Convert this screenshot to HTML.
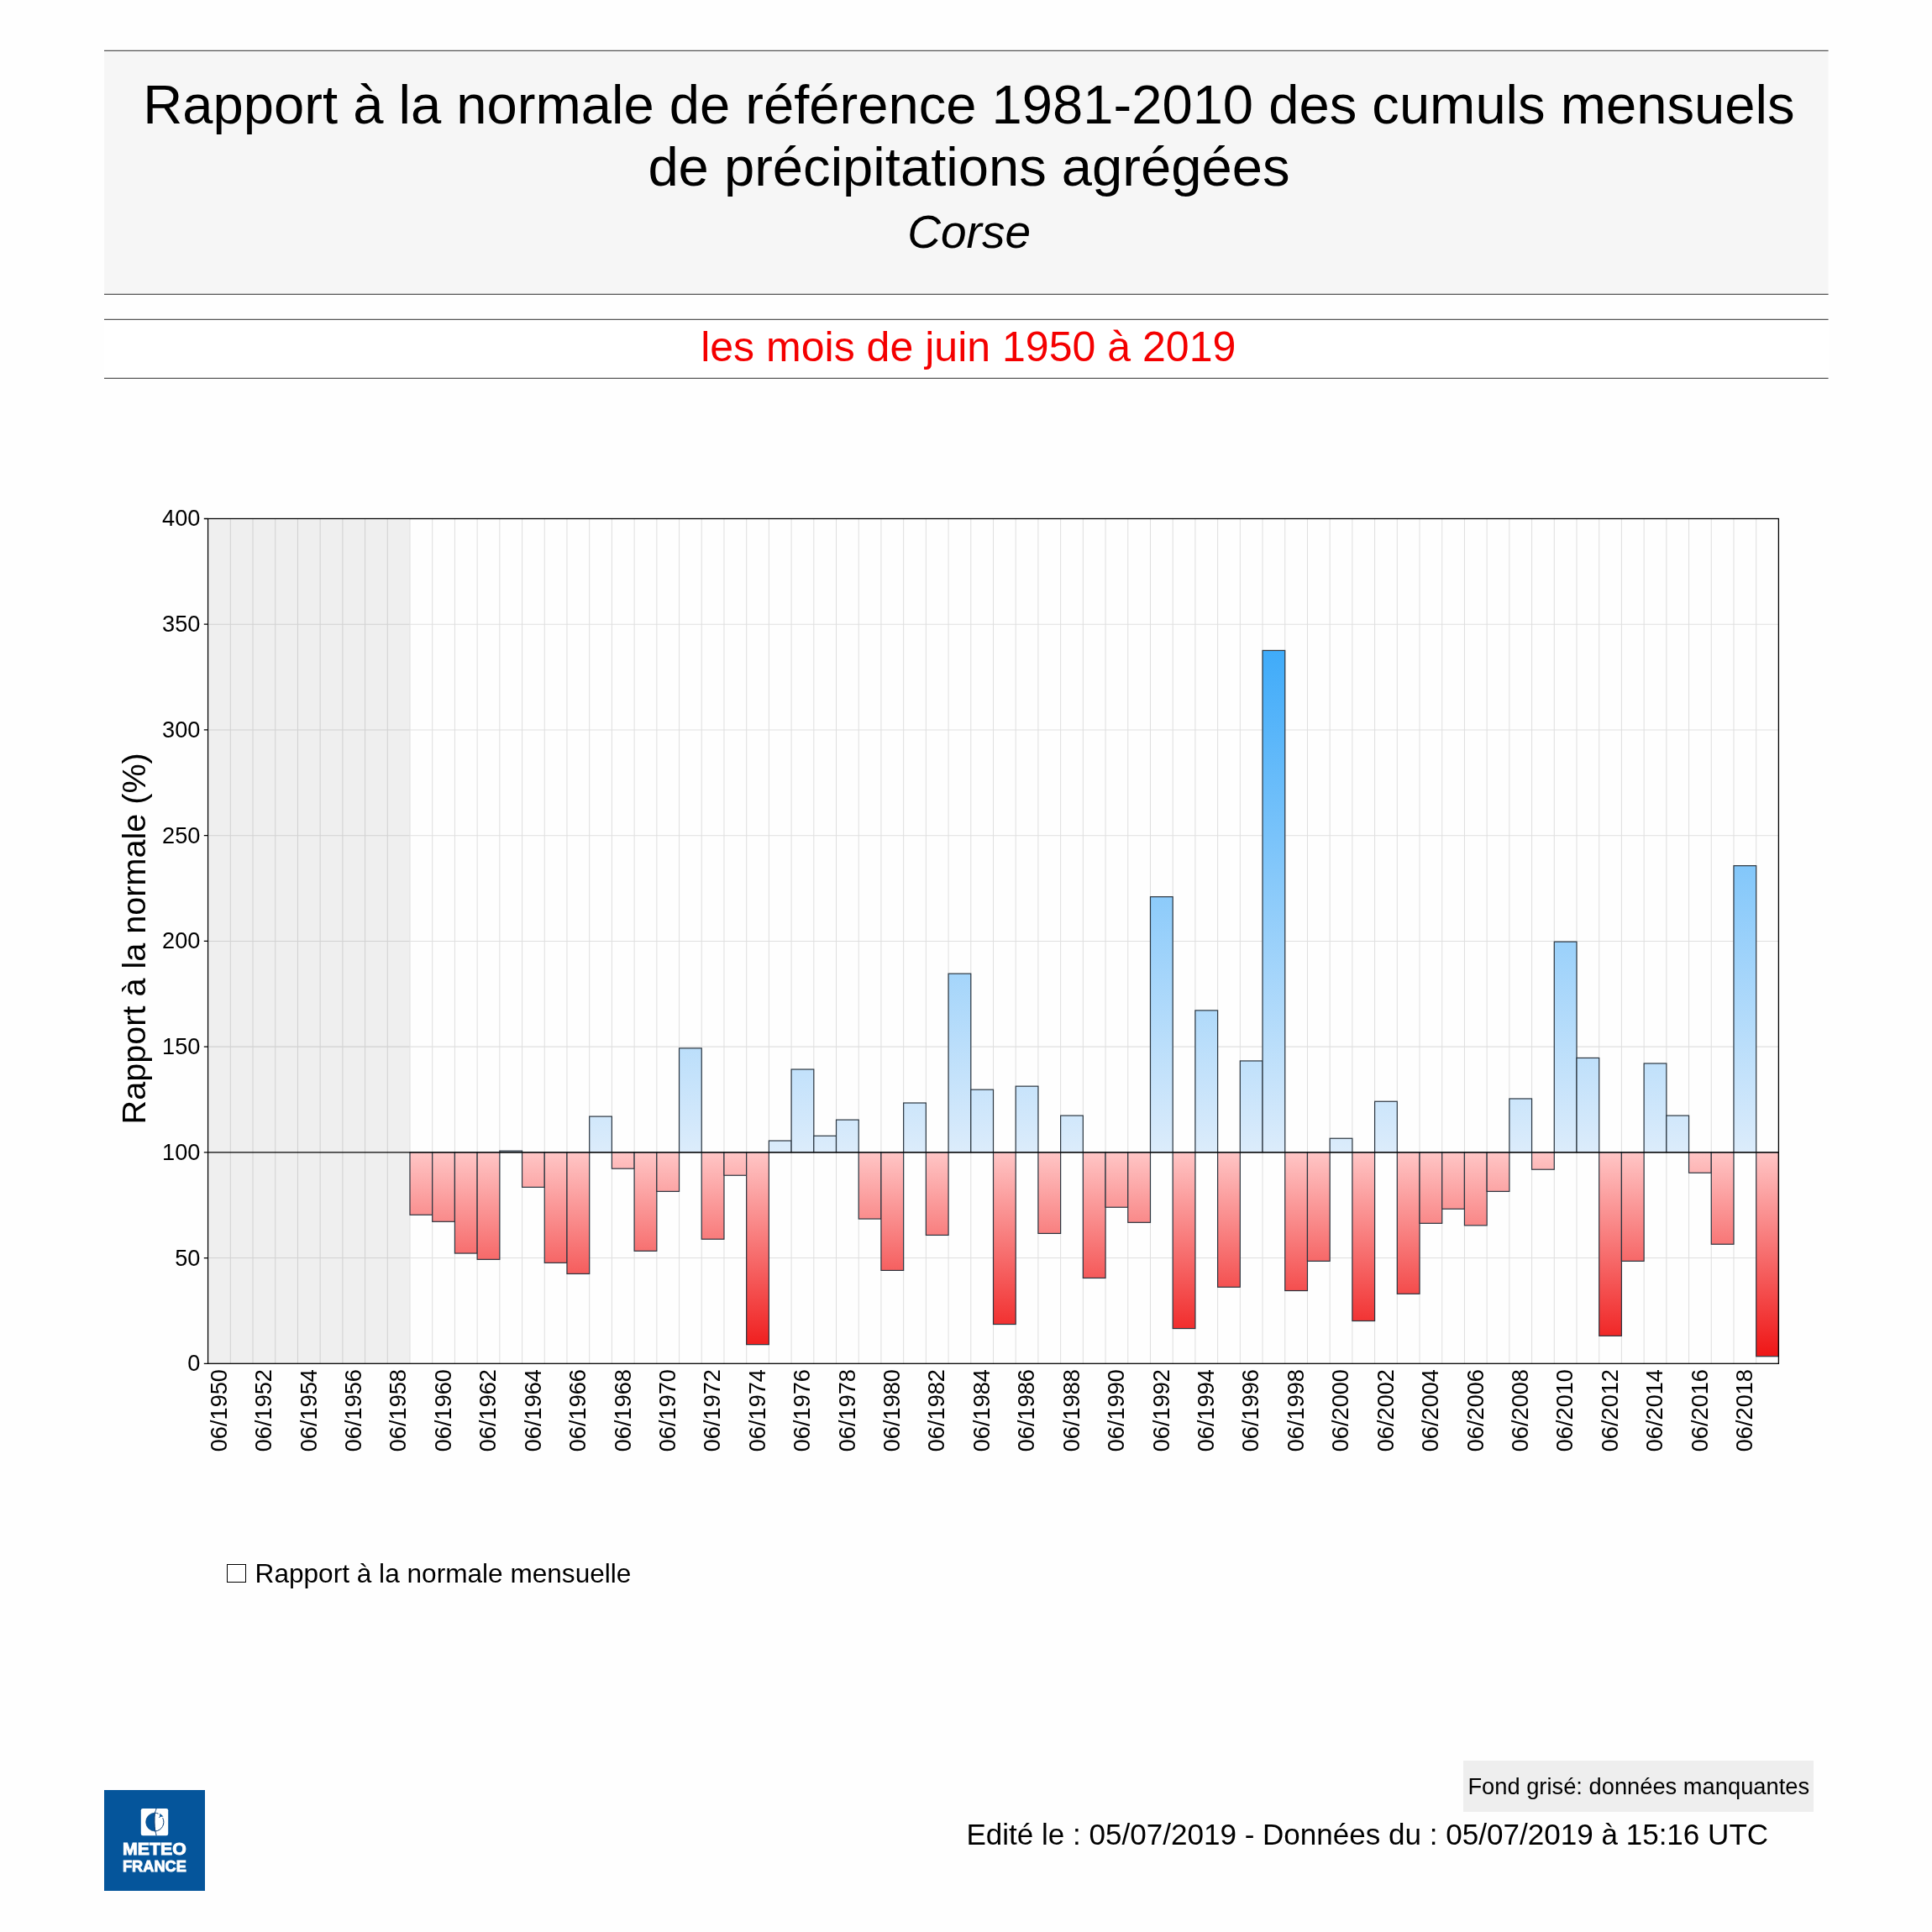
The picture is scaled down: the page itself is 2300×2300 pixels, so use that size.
<!DOCTYPE html>
<html><head><meta charset="utf-8"><title>Rapport à la normale</title>
<style>
html,body{margin:0;padding:0;}
body{width:2300px;height:2300px;background:#fefefe;position:relative;overflow:hidden;font-family:"Liberation Sans",sans-serif;color:#000;}
.abs{position:absolute;}
.hdr{left:124px;top:60.4px;width:2052.5px;height:290px;background:#f6f6f6;}
.ln{left:124px;width:2052.5px;height:1.3px;background:#555;}
.t1{left:127.2px;width:2052.5px;text-align:center;font-size:65.15px;line-height:73.6px;white-space:nowrap;}
.t3{left:127.4px;width:2052.5px;text-align:center;font-size:55px;font-style:italic;white-space:nowrap;}
.sub{left:124px;top:380.4px;width:2052.5px;height:70px;background:#ffffff;}
.st{left:126.5px;width:2052.5px;text-align:center;font-size:50.05px;color:#f40000;white-space:nowrap;}
.leg{left:269.9px;top:1862.2px;width:20.9px;height:20.1px;border:1.2px solid #000;background:#fff;}
.legt{left:303.6px;font-size:31.6px;white-space:nowrap;}
.note{left:1742.2px;top:2096px;width:416.7px;height:60.5px;background:#eeeeee;}
.notet{left:1747.4px;font-size:27.3px;white-space:nowrap;}
.foot{font-size:35.05px;white-space:nowrap;}
.logo{left:124px;top:2131px;width:120px;height:120px;background:#05559b;}
</style></head><body>
<div id="pg" style="position:absolute;left:0;top:0;width:2300px;height:2300px;will-change:transform;">
<svg width="2300" height="2300" viewBox="0 0 2300 2300" style="position:absolute;left:0;top:0">
<rect x="124" y="60.4" width="2052.6" height="290" fill="#f6f6f6"/>
<rect x="124" y="380.4" width="2052.6" height="70" fill="#ffffff"/>
<path d="M124 60.4H2176.6M124 350.4H2176.6M124 380.4H2176.6M124 450.4H2176.6" stroke="#555" stroke-width="1.35" fill="none"/>
</svg>
<div class="abs t1" style="top:88px">Rapport à la normale de référence 1981-2010 des cumuls mensuels<br>de précipitations agrégées</div>
<div class="abs t3" style="top:245px;line-height:62px">Corse</div>
<div class="abs st" style="top:382.1px;line-height:62px">les mois de juin 1950 à 2019</div>
<svg width="2300" height="2300" viewBox="0 0 2300 2300" style="position:absolute;left:0;top:0" font-family="Liberation Sans, sans-serif">
<defs><linearGradient id="gb" gradientUnits="userSpaceOnUse" x1="0" y1="1371.85" x2="0" y2="617.50"><stop offset="0" stop-color="#dcecfb"/><stop offset="1" stop-color="#169af9"/></linearGradient><linearGradient id="gr" gradientUnits="userSpaceOnUse" x1="0" y1="1371.85" x2="0" y2="1623.30"><stop offset="0" stop-color="#ffc6c6"/><stop offset="1" stop-color="#ee0f0f"/></linearGradient></defs>
<rect x="247.60" y="617.50" width="1869.80" height="1005.80" fill="#fefefe"/>
<rect x="249.10" y="619.10" width="238.40" height="1004.20" fill="#efefef"/>
<path d="M274.31 617.50V1623.30M301.02 617.50V1623.30M327.73 617.50V1623.30M354.45 617.50V1623.30M381.16 617.50V1623.30M407.87 617.50V1623.30M434.58 617.50V1623.30M461.29 617.50V1623.30M488.00 617.50V1623.30M514.71 617.50V1623.30M541.43 617.50V1623.30M568.14 617.50V1623.30M594.85 617.50V1623.30M621.56 617.50V1623.30M648.27 617.50V1623.30M674.98 617.50V1623.30M701.69 617.50V1623.30M728.41 617.50V1623.30M755.12 617.50V1623.30M781.83 617.50V1623.30M808.54 617.50V1623.30M835.25 617.50V1623.30M861.96 617.50V1623.30M888.67 617.50V1623.30M915.39 617.50V1623.30M942.10 617.50V1623.30M968.81 617.50V1623.30M995.52 617.50V1623.30M1022.23 617.50V1623.30M1048.94 617.50V1623.30M1075.65 617.50V1623.30M1102.37 617.50V1623.30M1129.08 617.50V1623.30M1155.79 617.50V1623.30M1182.50 617.50V1623.30M1209.21 617.50V1623.30M1235.92 617.50V1623.30M1262.63 617.50V1623.30M1289.35 617.50V1623.30M1316.06 617.50V1623.30M1342.77 617.50V1623.30M1369.48 617.50V1623.30M1396.19 617.50V1623.30M1422.90 617.50V1623.30M1449.61 617.50V1623.30M1476.33 617.50V1623.30M1503.04 617.50V1623.30M1529.75 617.50V1623.30M1556.46 617.50V1623.30M1583.17 617.50V1623.30M1609.88 617.50V1623.30M1636.59 617.50V1623.30M1663.31 617.50V1623.30M1690.02 617.50V1623.30M1716.73 617.50V1623.30M1743.44 617.50V1623.30M1770.15 617.50V1623.30M1796.86 617.50V1623.30M1823.57 617.50V1623.30M1850.29 617.50V1623.30M1877.00 617.50V1623.30M1903.71 617.50V1623.30M1930.42 617.50V1623.30M1957.13 617.50V1623.30M1983.84 617.50V1623.30M2010.55 617.50V1623.30M2037.27 617.50V1623.30M2063.98 617.50V1623.30M2090.69 617.50V1623.30M247.60 1497.58H2117.40M247.60 1246.12H2117.40M247.60 1120.40H2117.40M247.60 994.67H2117.40M247.60 868.95H2117.40M247.60 743.22H2117.40" stroke="#000" stroke-opacity="0.12" stroke-width="1.05" fill="none"/>
<rect x="488.00" y="1371.85" width="26.71" height="74.43" fill="url(#gr)" stroke="#2b3640" stroke-width="1.2"/>
<rect x="514.71" y="1371.85" width="26.71" height="82.48" fill="url(#gr)" stroke="#2b3640" stroke-width="1.2"/>
<rect x="541.43" y="1371.85" width="26.71" height="120.19" fill="url(#gr)" stroke="#2b3640" stroke-width="1.2"/>
<rect x="568.14" y="1371.85" width="26.71" height="127.49" fill="url(#gr)" stroke="#2b3640" stroke-width="1.2"/>
<rect x="594.85" y="1370.09" width="26.71" height="1.76" fill="url(#gb)" stroke="#2b3640" stroke-width="1.2"/>
<rect x="621.56" y="1371.85" width="26.71" height="41.49" fill="url(#gr)" stroke="#2b3640" stroke-width="1.2"/>
<rect x="648.27" y="1371.85" width="26.71" height="131.51" fill="url(#gr)" stroke="#2b3640" stroke-width="1.2"/>
<rect x="674.98" y="1371.85" width="26.71" height="144.58" fill="url(#gr)" stroke="#2b3640" stroke-width="1.2"/>
<rect x="701.69" y="1329.10" width="26.71" height="42.75" fill="url(#gb)" stroke="#2b3640" stroke-width="1.2"/>
<rect x="728.41" y="1371.85" width="26.71" height="19.36" fill="url(#gr)" stroke="#2b3640" stroke-width="1.2"/>
<rect x="755.12" y="1371.85" width="26.71" height="117.43" fill="url(#gr)" stroke="#2b3640" stroke-width="1.2"/>
<rect x="781.83" y="1371.85" width="26.71" height="46.52" fill="url(#gr)" stroke="#2b3640" stroke-width="1.2"/>
<rect x="808.54" y="1247.89" width="26.71" height="123.96" fill="url(#gb)" stroke="#2b3640" stroke-width="1.2"/>
<rect x="835.25" y="1371.85" width="26.71" height="103.35" fill="url(#gr)" stroke="#2b3640" stroke-width="1.2"/>
<rect x="861.96" y="1371.85" width="26.71" height="27.41" fill="url(#gr)" stroke="#2b3640" stroke-width="1.2"/>
<rect x="888.67" y="1371.85" width="26.71" height="228.82" fill="url(#gr)" stroke="#2b3640" stroke-width="1.2"/>
<rect x="915.39" y="1358.02" width="26.71" height="13.83" fill="url(#gb)" stroke="#2b3640" stroke-width="1.2"/>
<rect x="942.10" y="1273.03" width="26.71" height="98.82" fill="url(#gb)" stroke="#2b3640" stroke-width="1.2"/>
<rect x="968.81" y="1352.24" width="26.71" height="19.61" fill="url(#gb)" stroke="#2b3640" stroke-width="1.2"/>
<rect x="995.52" y="1333.13" width="26.71" height="38.72" fill="url(#gb)" stroke="#2b3640" stroke-width="1.2"/>
<rect x="1022.23" y="1371.85" width="26.71" height="79.21" fill="url(#gr)" stroke="#2b3640" stroke-width="1.2"/>
<rect x="1048.94" y="1371.85" width="26.71" height="140.56" fill="url(#gr)" stroke="#2b3640" stroke-width="1.2"/>
<rect x="1075.65" y="1313.01" width="26.71" height="58.84" fill="url(#gb)" stroke="#2b3640" stroke-width="1.2"/>
<rect x="1102.37" y="1371.85" width="26.71" height="98.57" fill="url(#gr)" stroke="#2b3640" stroke-width="1.2"/>
<rect x="1129.08" y="1159.12" width="26.71" height="212.73" fill="url(#gb)" stroke="#2b3640" stroke-width="1.2"/>
<rect x="1155.79" y="1297.17" width="26.71" height="74.68" fill="url(#gb)" stroke="#2b3640" stroke-width="1.2"/>
<rect x="1182.50" y="1371.85" width="26.71" height="204.68" fill="url(#gr)" stroke="#2b3640" stroke-width="1.2"/>
<rect x="1209.21" y="1293.15" width="26.71" height="78.70" fill="url(#gb)" stroke="#2b3640" stroke-width="1.2"/>
<rect x="1235.92" y="1371.85" width="26.71" height="96.56" fill="url(#gr)" stroke="#2b3640" stroke-width="1.2"/>
<rect x="1262.63" y="1328.10" width="26.71" height="43.75" fill="url(#gb)" stroke="#2b3640" stroke-width="1.2"/>
<rect x="1289.35" y="1371.85" width="26.71" height="149.61" fill="url(#gr)" stroke="#2b3640" stroke-width="1.2"/>
<rect x="1316.06" y="1371.85" width="26.71" height="65.38" fill="url(#gr)" stroke="#2b3640" stroke-width="1.2"/>
<rect x="1342.77" y="1371.85" width="26.71" height="83.48" fill="url(#gr)" stroke="#2b3640" stroke-width="1.2"/>
<rect x="1369.48" y="1067.60" width="26.71" height="304.25" fill="url(#gb)" stroke="#2b3640" stroke-width="1.2"/>
<rect x="1396.19" y="1371.85" width="26.71" height="209.71" fill="url(#gr)" stroke="#2b3640" stroke-width="1.2"/>
<rect x="1422.90" y="1202.88" width="26.71" height="168.97" fill="url(#gb)" stroke="#2b3640" stroke-width="1.2"/>
<rect x="1449.61" y="1371.85" width="26.71" height="160.43" fill="url(#gr)" stroke="#2b3640" stroke-width="1.2"/>
<rect x="1476.33" y="1262.97" width="26.71" height="108.88" fill="url(#gb)" stroke="#2b3640" stroke-width="1.2"/>
<rect x="1503.04" y="774.40" width="26.71" height="597.45" fill="url(#gb)" stroke="#2b3640" stroke-width="1.2"/>
<rect x="1529.75" y="1371.85" width="26.71" height="164.70" fill="url(#gr)" stroke="#2b3640" stroke-width="1.2"/>
<rect x="1556.46" y="1371.85" width="26.71" height="129.50" fill="url(#gr)" stroke="#2b3640" stroke-width="1.2"/>
<rect x="1583.17" y="1355.25" width="26.71" height="16.60" fill="url(#gb)" stroke="#2b3640" stroke-width="1.2"/>
<rect x="1609.88" y="1371.85" width="26.71" height="200.66" fill="url(#gr)" stroke="#2b3640" stroke-width="1.2"/>
<rect x="1636.59" y="1311.25" width="26.71" height="60.60" fill="url(#gb)" stroke="#2b3640" stroke-width="1.2"/>
<rect x="1663.31" y="1371.85" width="26.71" height="168.47" fill="url(#gr)" stroke="#2b3640" stroke-width="1.2"/>
<rect x="1690.02" y="1371.85" width="26.71" height="84.49" fill="url(#gr)" stroke="#2b3640" stroke-width="1.2"/>
<rect x="1716.73" y="1371.85" width="26.71" height="67.39" fill="url(#gr)" stroke="#2b3640" stroke-width="1.2"/>
<rect x="1743.44" y="1371.85" width="26.71" height="87.00" fill="url(#gr)" stroke="#2b3640" stroke-width="1.2"/>
<rect x="1770.15" y="1371.85" width="26.71" height="46.52" fill="url(#gr)" stroke="#2b3640" stroke-width="1.2"/>
<rect x="1796.86" y="1307.98" width="26.71" height="63.87" fill="url(#gb)" stroke="#2b3640" stroke-width="1.2"/>
<rect x="1823.57" y="1371.85" width="26.71" height="20.37" fill="url(#gr)" stroke="#2b3640" stroke-width="1.2"/>
<rect x="1850.29" y="1121.15" width="26.71" height="250.70" fill="url(#gb)" stroke="#2b3640" stroke-width="1.2"/>
<rect x="1877.00" y="1259.45" width="26.71" height="112.40" fill="url(#gb)" stroke="#2b3640" stroke-width="1.2"/>
<rect x="1903.71" y="1371.85" width="26.71" height="218.51" fill="url(#gr)" stroke="#2b3640" stroke-width="1.2"/>
<rect x="1930.42" y="1371.85" width="26.71" height="129.50" fill="url(#gr)" stroke="#2b3640" stroke-width="1.2"/>
<rect x="1957.13" y="1265.99" width="26.71" height="105.86" fill="url(#gb)" stroke="#2b3640" stroke-width="1.2"/>
<rect x="1983.84" y="1328.10" width="26.71" height="43.75" fill="url(#gb)" stroke="#2b3640" stroke-width="1.2"/>
<rect x="2010.55" y="1371.85" width="26.71" height="24.39" fill="url(#gr)" stroke="#2b3640" stroke-width="1.2"/>
<rect x="2037.27" y="1371.85" width="26.71" height="109.38" fill="url(#gr)" stroke="#2b3640" stroke-width="1.2"/>
<rect x="2063.98" y="1030.63" width="26.71" height="341.22" fill="url(#gb)" stroke="#2b3640" stroke-width="1.2"/>
<rect x="2090.69" y="1371.85" width="26.71" height="242.90" fill="url(#gr)" stroke="#2b3640" stroke-width="1.2"/>
<path d="M247.60 1371.85H2117.40" stroke="#000" stroke-width="1.3"/>
<rect x="247.60" y="617.50" width="1869.80" height="1005.80" fill="none" stroke="#000" stroke-width="1.3"/>
<path d="M242.80 1623.30H247.60M242.80 1497.58H247.60M242.80 1371.85H247.60M242.80 1246.12H247.60M242.80 1120.40H247.60M242.80 994.67H247.60M242.80 868.95H247.60M242.80 743.22H247.60M242.80 617.50H247.60" stroke="#000" stroke-width="1.3"/>
<text x="238.40" y="1632.28" font-size="27.20" text-anchor="end">0</text>
<text x="238.40" y="1506.55" font-size="27.20" text-anchor="end">50</text>
<text x="238.40" y="1380.83" font-size="27.20" text-anchor="end">100</text>
<text x="238.40" y="1255.10" font-size="27.20" text-anchor="end">150</text>
<text x="238.40" y="1129.38" font-size="27.20" text-anchor="end">200</text>
<text x="238.40" y="1003.65" font-size="27.20" text-anchor="end">250</text>
<text x="238.40" y="877.93" font-size="27.20" text-anchor="end">300</text>
<text x="238.40" y="752.20" font-size="27.20" text-anchor="end">350</text>
<text x="238.40" y="626.48" font-size="27.20" text-anchor="end">400</text>
<text transform="translate(269.69 1630.00) rotate(-90)" font-size="27.20" text-anchor="end">06/1950</text>
<text transform="translate(323.12 1630.00) rotate(-90)" font-size="27.20" text-anchor="end">06/1952</text>
<text transform="translate(376.54 1630.00) rotate(-90)" font-size="27.20" text-anchor="end">06/1954</text>
<text transform="translate(429.96 1630.00) rotate(-90)" font-size="27.20" text-anchor="end">06/1956</text>
<text transform="translate(483.38 1630.00) rotate(-90)" font-size="27.20" text-anchor="end">06/1958</text>
<text transform="translate(536.81 1630.00) rotate(-90)" font-size="27.20" text-anchor="end">06/1960</text>
<text transform="translate(590.23 1630.00) rotate(-90)" font-size="27.20" text-anchor="end">06/1962</text>
<text transform="translate(643.65 1630.00) rotate(-90)" font-size="27.20" text-anchor="end">06/1964</text>
<text transform="translate(697.08 1630.00) rotate(-90)" font-size="27.20" text-anchor="end">06/1966</text>
<text transform="translate(750.50 1630.00) rotate(-90)" font-size="27.20" text-anchor="end">06/1968</text>
<text transform="translate(803.92 1630.00) rotate(-90)" font-size="27.20" text-anchor="end">06/1970</text>
<text transform="translate(857.34 1630.00) rotate(-90)" font-size="27.20" text-anchor="end">06/1972</text>
<text transform="translate(910.77 1630.00) rotate(-90)" font-size="27.20" text-anchor="end">06/1974</text>
<text transform="translate(964.19 1630.00) rotate(-90)" font-size="27.20" text-anchor="end">06/1976</text>
<text transform="translate(1017.61 1630.00) rotate(-90)" font-size="27.20" text-anchor="end">06/1978</text>
<text transform="translate(1071.04 1630.00) rotate(-90)" font-size="27.20" text-anchor="end">06/1980</text>
<text transform="translate(1124.46 1630.00) rotate(-90)" font-size="27.20" text-anchor="end">06/1982</text>
<text transform="translate(1177.88 1630.00) rotate(-90)" font-size="27.20" text-anchor="end">06/1984</text>
<text transform="translate(1231.30 1630.00) rotate(-90)" font-size="27.20" text-anchor="end">06/1986</text>
<text transform="translate(1284.73 1630.00) rotate(-90)" font-size="27.20" text-anchor="end">06/1988</text>
<text transform="translate(1338.15 1630.00) rotate(-90)" font-size="27.20" text-anchor="end">06/1990</text>
<text transform="translate(1391.57 1630.00) rotate(-90)" font-size="27.20" text-anchor="end">06/1992</text>
<text transform="translate(1445.00 1630.00) rotate(-90)" font-size="27.20" text-anchor="end">06/1994</text>
<text transform="translate(1498.42 1630.00) rotate(-90)" font-size="27.20" text-anchor="end">06/1996</text>
<text transform="translate(1551.84 1630.00) rotate(-90)" font-size="27.20" text-anchor="end">06/1998</text>
<text transform="translate(1605.26 1630.00) rotate(-90)" font-size="27.20" text-anchor="end">06/2000</text>
<text transform="translate(1658.69 1630.00) rotate(-90)" font-size="27.20" text-anchor="end">06/2002</text>
<text transform="translate(1712.11 1630.00) rotate(-90)" font-size="27.20" text-anchor="end">06/2004</text>
<text transform="translate(1765.53 1630.00) rotate(-90)" font-size="27.20" text-anchor="end">06/2006</text>
<text transform="translate(1818.96 1630.00) rotate(-90)" font-size="27.20" text-anchor="end">06/2008</text>
<text transform="translate(1872.38 1630.00) rotate(-90)" font-size="27.20" text-anchor="end">06/2010</text>
<text transform="translate(1925.80 1630.00) rotate(-90)" font-size="27.20" text-anchor="end">06/2012</text>
<text transform="translate(1979.22 1630.00) rotate(-90)" font-size="27.20" text-anchor="end">06/2014</text>
<text transform="translate(2032.65 1630.00) rotate(-90)" font-size="27.20" text-anchor="end">06/2016</text>
<text transform="translate(2086.07 1630.00) rotate(-90)" font-size="27.20" text-anchor="end">06/2018</text>
<text transform="translate(173.3 1117.3) rotate(-90)" font-size="39.6" text-anchor="middle">Rapport à la normale (%)</text>
</svg>
<div class="abs leg"></div>
<div class="abs legt" style="top:1855px;line-height:36px">Rapport à la normale mensuelle</div>
<div class="abs note"></div>
<div class="abs notet" style="top:2110.7px;line-height:32px">Fond grisé: données manquantes</div>
<div class="abs foot" style="left:1150.4px;top:2163.8px;line-height:40px">Edité le : 05/07/2019 - Données du : 05/07/2019 à 15:16 UTC</div>
<div class="abs logo">
<svg width="120" height="120" viewBox="0 0 120 120" style="position:absolute;left:0;top:0" font-family="Liberation Sans, sans-serif">
<rect x="43.8" y="22" width="32.4" height="32.3" rx="2.2" fill="#fff"/>
<path d="M60.3 27.2 A10.9 10.9 0 0 0 60.8 49 C59.6 42 59.6 34 60.3 27.2Z" fill="#05559b" stroke="#0b3f78" stroke-width="0.6"/>
<path d="M60.8 49 A10.9 10.9 0 0 0 69.7 33.2" fill="none" stroke="#0b3f78" stroke-width="1"/>
<path d="M60.4 27.2 A10.9 10.9 0 0 1 64.6 28.2" fill="none" stroke="#0b3f78" stroke-width="1"/>
<path d="M62.1 21.6 C61.8 24 60.8 25.6 60.3 27.2 C59.6 34 59.6 42 60.8 49 C61.5 51 62 52.5 62.1 54.2" fill="none" stroke="#0b3f78" stroke-width="1"/>
<path d="M66.3 27.8 L70.5 31.6 L66.1 31.9Z" fill="#05559b"/>
<path d="M65.2 32.6 L66.6 32.1" fill="none" stroke="#0b3f78" stroke-width="0.9"/>
<text x="59.9" y="77.4" font-size="19.5" font-weight="bold" fill="#fff" stroke="#fff" stroke-width="0.9" text-anchor="middle" textLength="75.6" lengthAdjust="spacingAndGlyphs">METEO</text>
<text x="59.9" y="97.0" font-size="18.5" font-weight="bold" fill="#fff" stroke="#fff" stroke-width="0.9" text-anchor="middle" textLength="75.8" lengthAdjust="spacingAndGlyphs">FRANCE</text>
</svg>
</div>
</div>
</body></html>
